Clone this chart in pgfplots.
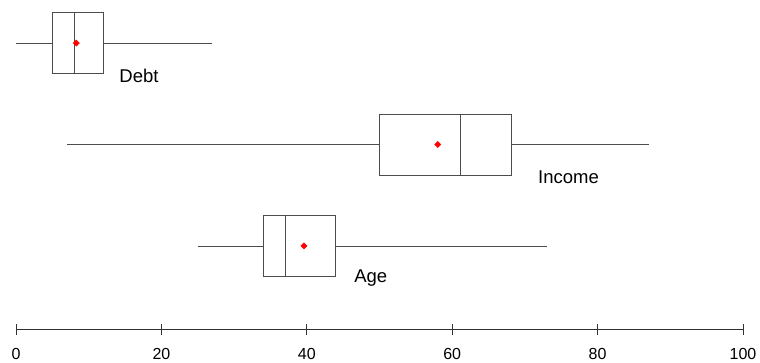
\documentclass[border=0pt]{standalone}
\usepackage{fontspec}
\setmainfont{Liberation Sans}
\usepackage{pgfplots}
\pgfplotsset{compat=1.18}
\usepgfplotslibrary{statistics}
\begin{document}
\begin{tikzpicture}
\begin{axis}[
  name=ax,
  scale only axis,
  width=727pt, height=329pt,
  xmin=0, xmax=100,
  ymin=0.182, ymax=3.424,
  axis y line=none,
  axis x line*=bottom,
  axis line style={black!80, line width=0.9pt, -},
  x axis line style={-},
  xtick={0,20,40,60,80,100},
  major tick length=11pt,
  tick align=center,
  tick style={black!80, line width=0.9pt},
  xticklabel style={font=\fontsize{16}{19}\selectfont, yshift=-10pt},
  /pgf/number format/assume math mode=true,
  clip=false,
  boxplot/draw direction=x,
]
\addplot[black!70, line width=0.9pt, boxplot prepared={
  lower whisker=0, lower quartile=5, median=8.1,
  upper quartile=12, upper whisker=27,
  draw position=3, box extend=0.6, whisker extend=0}] coordinates {};
\addplot[black!70, line width=0.9pt, boxplot prepared={
  lower whisker=7, lower quartile=50, median=61.1,
  upper quartile=68.1, upper whisker=87.1,
  draw position=2, box extend=0.6, whisker extend=0}] coordinates {};
\addplot[black!70, line width=0.9pt, boxplot prepared={
  lower whisker=25, lower quartile=34, median=37.1,
  upper quartile=44, upper whisker=73,
  draw position=1, box extend=0.6, whisker extend=0}] coordinates {};
\addplot[only marks, red, mark=square*, mark size=2.2pt,
  mark options={rotate=45}] coordinates {
  (8.3,3) (58.0,2) (39.6,1)};
\node[anchor=west, inner sep=0pt, yshift=-2pt, font=\fontsize{18.5}{22}\selectfont] at (axis cs:14.2,2.7) {Debt};
\node[anchor=west, inner sep=0pt, yshift=-2pt, font=\fontsize{18.5}{22}\selectfont] at (axis cs:71.8,1.7) {Income};
\node[anchor=west, inner sep=0pt, yshift=-2pt, font=\fontsize{18.5}{22}\selectfont] at (axis cs:46.5,0.7) {Age};
\end{axis}
\pgfresetboundingbox
\path[use as bounding box] (ax.south west) ++(-16pt,-33pt) rectangle ++(760pt,362pt);
\end{tikzpicture}
\end{document}
